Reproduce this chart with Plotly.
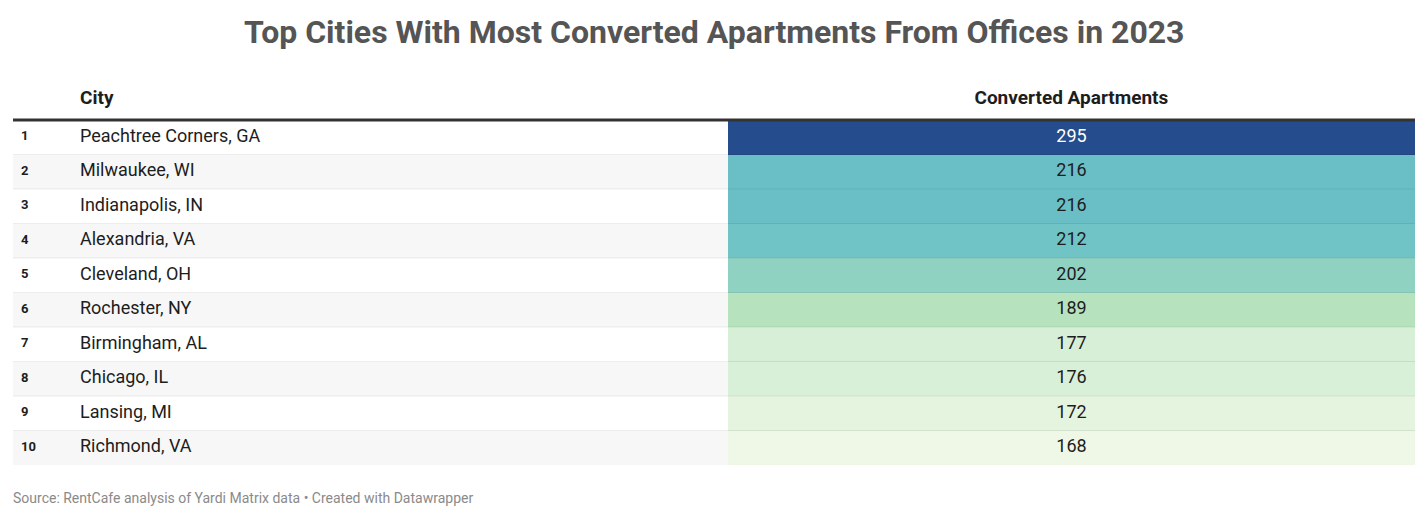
import plotly.graph_objects as go
import plotly.colors as pc

ranks = [1, 2, 3, 4, 5, 6, 7, 8, 9, 10]
cities = ["Peachtree Corners, GA", "Milwaukee, WI", "Indianapolis, IN", "Alexandria, VA",
          "Cleveland, OH", "Rochester, NY", "Birmingham, AL", "Chicago, IL",
          "Lansing, MI", "Richmond, VA"]
apartments = [295, 216, 216, 212, 202, 189, 177, 176, 172, 168]
headers = ["", "City", "Converted Apartments"]
title = "Top Cities With Most Converted Apartments From Offices in 2023"
source = "Source: RentCafe analysis of Yardi Matrix data • Created with Datawrapper"

W, H = 1428, 521

# colour scale (Datawrapper-like gradient)
scale = [
    [0.0, "#eff8e7"],
    [0.03, "#e4f4df"],
    [0.07, "#d7efd6"],
    [0.165, "#b6e3bd"],
    [0.27, "#8fd2c2"],
    [0.35, "#6fc3c5"],
    [0.38, "#6abfc6"],
    [1.0, "#254c8c"],
]
vmin, vmax = min(apartments), max(apartments)
norm = [(v - vmin) / (vmax - vmin) for v in apartments]
val_colors = [pc.sample_colorscale(scale, [n], colortype="rgb")[0] for n in norm]
stripe = ["#ffffff" if i % 2 == 0 else "#f7f7f7" for i in range(len(ranks))]
val_font_colors = ["#ffffff" if n > 0.7 else "#1d1d1d" for n in norm]

x0, x1 = 13 / W, 1415 / W
top = 78
header_h = 42
row_h = 34.5

fig = go.Figure(go.Table(
    domain=dict(x=[x0, x1], y=[1 - 478 / H, 1 - top / H]),
    columnwidth=[59, 656, 687],
    header=dict(
        values=[f"<b>{h}</b>" for h in headers],
        fill_color="#ffffff",
        line=dict(width=0, color="#ffffff"),
        align=["left", "left", "center"],
        font=dict(family="Roboto", size=19, color="#1d1d1d"),
        height=header_h,
    ),
    cells=dict(
        values=[[f"<b>{r}</b>" for r in ranks], cities, apartments],
        fill_color=[stripe, stripe, val_colors],
        line=dict(width=0),
        align=["left", "left", "center"],
        font=dict(family="Roboto", size=[13, 18, 18],
                  color=["#1d1d1d", "#1d1d1d", val_font_colors]),
        height=row_h,
    ),
))

# row separators
header_bottom = top + header_h
for k in range(1, len(ranks)):
    yy = 1 - (header_bottom + k * row_h) / H
    fig.add_shape(type="line", xref="paper", yref="paper",
                  x0=x0, x1=x1, y0=yy, y1=yy,
                  line=dict(color="rgba(0,0,0,0.07)", width=1))

fig.add_shape(type="line", xref="paper", yref="paper",
              x0=x0, x1=x1, y0=1 - header_bottom / H, y1=1 - header_bottom / H,
              line=dict(color="#333333", width=3))

fig.add_annotation(text=f"<b>{title}</b>", xref="paper", yref="paper",
                   x=0.5, y=1 - 32 / H, xanchor="center", yanchor="middle",
                   showarrow=False, font=dict(family="Roboto", size=32, color="#555555"))
fig.add_annotation(text=source, xref="paper", yref="paper",
                   x=11 / W, y=1 - 498 / H, xanchor="left", yanchor="middle",
                   showarrow=False, font=dict(family="Roboto", size=14, color="#8a8a8a"))

fig.update_layout(width=W, height=H, margin=dict(l=0, r=0, t=0, b=0),
                  paper_bgcolor="#ffffff", plot_bgcolor="#ffffff")
fig.write_html("out.html", config={"displayModeBar": False},
               post_script="document.body.style.margin='0';document.body.style.overflow='hidden';")
